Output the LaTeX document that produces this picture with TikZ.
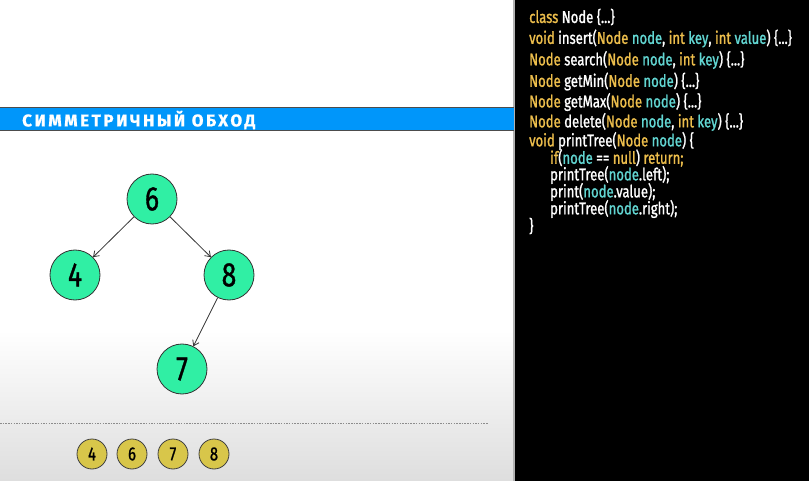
\documentclass[tikz,border=0pt]{standalone}
\usepackage{fontspec}
\setmainfont{Fira Sans}
\newfontfamily\codefont[FakeStretch=0.77,FakeBold=1.2]{Fira Sans}
\newfontfamily\bannerfont[LetterSpace=15,FakeBold=1]{Fira Sans}
\newfontfamily\digitfont[FakeStretch=0.78,FakeBold=1]{Fira Sans}
\usetikzlibrary{arrows.meta}
\definecolor{kw}{HTML}{EDBE4C}
\definecolor{vr}{HTML}{62D6D2}
\definecolor{banner}{HTML}{0096FA}
\definecolor{mint}{HTML}{30EFA4}
\definecolor{gold}{HTML}{D8C64A}
\newcommand{\K}[1]{\textcolor{kw}{#1}}
\newcommand{\V}[1]{\textcolor{vr}{#1}}
\tikzset{
  treenode/.style={circle, draw=black!80, line width=0.8pt, fill=mint, minimum size=50pt, inner sep=0pt, font=\digitfont\fontsize{34}{34}\selectfont},
  outnode/.style={circle, draw=black!75, line width=0.8pt, fill=gold, minimum size=30pt, inner sep=0pt, font=\digitfont\fontsize{19}{19}\selectfont},
  edge/.style={draw=black!80, line width=0.8pt, -{Straight Barb[length=5pt,width=7pt]}},
  codeline/.style={anchor=west, inner sep=0pt, text=white, font=\codefont\fontsize{17}{17}\selectfont},
}
\begin{document}
\begin{tikzpicture}[x=1pt,y=-1pt]
\useasboundingbox (0,0) rectangle (809,481);
% left panel background
\fill[white] (0,0) rectangle (515,481);
\shade[top color=white, bottom color=black!13] (0,330) rectangle (515,481);
\fill[black!30] (513,0) rectangle (515,481);
% right panel
\fill[black] (515,0) rectangle (809,481);
% banner
\fill[banner] (0,108) rectangle (514,131);
\draw[black!70, line width=1pt] (0,108) -- (514,108);
\draw[black!70, line width=1pt] (0,131) -- (514,131);
\node[anchor=west, inner sep=0pt, text=white, font=\bannerfont\bfseries\fontsize{17}{17}\selectfont] (title) at (22,120) {СИММЕТРИЧНЫЙ ОБХОД};
% tree
\node[treenode] (n6) at (152,199) {6};
\node[treenode] (n4) at (75,275) {4};
\node[treenode] (n8) at (229,275) {8};
\node[treenode] (n7) at (182,369) {7};
\draw[edge] (n6) -- (n4);
\draw[edge] (n6) -- (n8);
\draw[edge] (n8) -- (n7);
% dotted line
\coordinate (d1) at (0,423);
\coordinate (d2) at (488,423);
\draw[black!45, line width=1pt, dash pattern=on 1.5pt off 1.2pt] (d1) -- (d2);
% output
\node[outnode] (o4) at (92,454) {4};
\node[outnode] (o6) at (132,454) {6};
\node[outnode] (o7) at (173,454) {7};
\node[outnode] (o8) at (214,454) {8};
% code
\node[codeline] (c1) at (529,17) {\K{class} Node \{...\}};
\node[codeline] (c2) at (529,38.5) {\K{void} insert(\K{Node} \V{node}, \K{int} \V{key}, \K{int} \V{value}) \{...\}};
\node[codeline] (c3) at (529,60) {\K{Node} search(\K{Node} \V{node}, \K{int} \V{key}) \{...\}};
\node[codeline] (c4) at (529,81.5) {\K{Node} getMin(\K{Node} \V{node}) \{...\}};
\node[codeline] (c5) at (529,102) {\K{Node} getMax(\K{Node} \V{node}) \{...\}};
\node[codeline] (c6) at (529,122) {\K{Node} delete(\K{Node} \V{node}, \K{int} \V{key}) \{...\}};
\node[codeline] (c7) at (529,141) {\K{void} printTree(\K{Node} \V{node}) \{};
\node[codeline] (c8) at (550,158) {\K{if}(\V{node} == \K{null}) \K{return;}};
\node[codeline] (c9) at (550,175) {printTree(\V{node}.left);};
\node[codeline] (c10) at (550,192) {print(\V{node}.value);};
\node[codeline] (c11) at (550,209) {printTree(\V{node}.right);};
\node[codeline] (c12) at (529,226) {\}};
\end{tikzpicture}
\end{document}
